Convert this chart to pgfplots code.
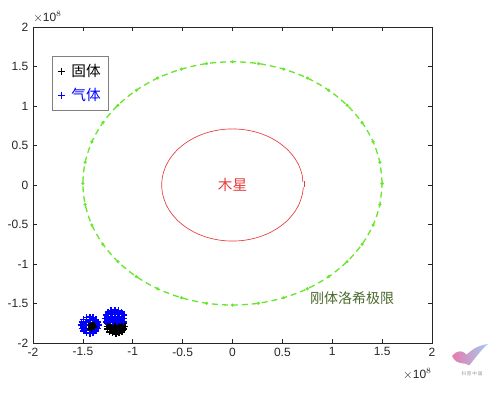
\documentclass[border=0pt]{standalone}
\usepackage{pgfplots}
\pgfplotsset{compat=1.18}
\usepackage{fontspec}
\setmainfont{Liberation Sans}
\newfontfamily\cjk{Noto Sans CJK SC}
\definecolor{mgreen}{RGB}{105,230,45}
\definecolor{tickgray}{RGB}{38,38,38}
\definecolor{olivetxt}{RGB}{75,105,45}
\definecolor{jred}{RGB}{230,60,60}
\definecolor{logopink}{RGB}{225,90,150}
\definecolor{logoblue}{RGB}{140,190,240}
\begin{document}
\begin{tikzpicture}
\path[use as bounding box] (0,0) rectangle (375pt,297pt);
\begin{axis}[
  at={(24.75pt,39.75pt)}, anchor=south west,
  scale only axis, width=299.25pt, height=237pt,
  xmin=-2, xmax=2, ymin=-2, ymax=2,
  xtick={-2,-1.5,...,2}, ytick={-2,-1.5,...,2},
  xticklabels={-2,-1.5,-1,-0.5,0,0.5,1,1.5,2},
  yticklabels={-2,-1.5,-1,-0.5,0,0.5,1,1.5,2},
  tick align=inside, tick pos=both,
  major tick length=3pt,
  axis line style={draw=tickgray, line width=0.5pt},
  tick style={draw=tickgray, line width=0.5pt},
  tick label style={font=\fontsize{9}{10}\selectfont, text=tickgray},
  /pgf/number format/assume math mode=true,
  scaled ticks=false,
  legend style={at={(0.048,0.908)}, anchor=north west, draw=gray, line width=0.4pt,
    font=\cjk\fontsize{11}{13}\selectfont, row sep=3pt, inner xsep=4pt, inner ysep=4pt},
  legend image code/.code={\draw[#1, line width=0.6pt, mark size=2.6pt] plot coordinates {(5pt,0pt)};},
  legend cell align=left,
  clip=false,
]
% solids (black)
\addplot[only marks, mark=+, mark size=2.3pt, line width=1.3pt, black] coordinates {
(-1.40,-1.78) (-1.42,-1.81) (-1.38,-1.80) (-1.40,-1.84) (-1.37,-1.83) (-1.42,-1.77) (-1.36,-1.79)
(-1.41,-1.79) (-1.44,-1.78) (-1.39,-1.77) (-1.42,-1.82) (-1.40,-1.76) (-1.37,-1.80) (-1.39,-1.83)
(-1.376,-1.775) (-1.392,-1.820) (-1.430,-1.838) (-1.468,-1.820)
(-1.080,-1.790) (-1.087,-1.754) (-1.253,-1.754) (-1.260,-1.790) (-1.253,-1.826) (-1.234,-1.857)
(-1.204,-1.878) (-1.170,-1.885) (-1.136,-1.878) (-1.106,-1.857) (-1.087,-1.826)
(-1.17,-1.79) (-1.21,-1.80) (-1.13,-1.80) (-1.17,-1.84) (-1.21,-1.84) (-1.13,-1.84) (-1.17,-1.75)
(-1.19,-1.77) (-1.15,-1.77) (-1.11,-1.77) (-1.23,-1.77) (-1.19,-1.82) (-1.15,-1.82) (-1.10,-1.84)
(-1.24,-1.80) (-1.19,-1.86) (-1.15,-1.86)
};
\addlegendentry{\hspace{3pt}固体}
% gases (blue)
\addplot[only marks, mark=+, mark size=2.3pt, line width=1.3pt, blue,
  legend image post style={draw=blue, color=blue}] coordinates {
(-1.340,-1.775) (-1.347,-1.735) (-1.366,-1.701) (-1.396,-1.678) (-1.430,-1.670) (-1.464,-1.678)
(-1.494,-1.701) (-1.513,-1.735) (-1.520,-1.775) (-1.513,-1.815) (-1.494,-1.849) (-1.464,-1.872)
(-1.430,-1.880) (-1.396,-1.872) (-1.366,-1.849) (-1.347,-1.815)
(-1.468,-1.730) (-1.484,-1.775)
(-1.49,-1.76) (-1.49,-1.80) (-1.43,-1.71) (-1.40,-1.70) (-1.37,-1.72) (-1.48,-1.84)
(-1.085,-1.690) (-1.092,-1.648) (-1.113,-1.612) (-1.144,-1.588) (-1.180,-1.580) (-1.216,-1.588)
(-1.247,-1.612) (-1.268,-1.648) (-1.275,-1.690) (-1.268,-1.732) (-1.092,-1.732)
(-1.18,-1.64) (-1.14,-1.67) (-1.22,-1.67) (-1.18,-1.70) (-1.13,-1.72) (-1.23,-1.72) (-1.20,-1.61) (-1.16,-1.61)
(-1.11,-1.68) (-1.25,-1.68) (-1.15,-1.64) (-1.21,-1.64) (-1.18,-1.67) (-1.16,-1.73) (-1.20,-1.73)
(-1.11,-1.62) (-1.25,-1.62)
};
\addlegendentry{\hspace{3pt}\textcolor{blue}{气体}}
% Jupiter
\addplot[jred, line width=0.5pt, smooth, forget plot] coordinates {
(0.705,0.04) (0.699,0.123) (0.667,0.243) (0.615,0.355) (0.544,0.456) (0.456,0.544) (0.355,0.615)
(0.243,0.667) (0.123,0.699) (0,0.710) (-0.123,0.699) (-0.243,0.667) (-0.355,0.615) (-0.456,0.544)
(-0.544,0.456) (-0.615,0.355) (-0.667,0.243) (-0.699,0.123) (-0.710,0) (-0.699,-0.123) (-0.667,-0.243)
(-0.615,-0.355) (-0.544,-0.456) (-0.456,-0.544) (-0.355,-0.615) (-0.243,-0.667) (-0.123,-0.699)
(0,-0.710) (0.123,-0.699) (0.243,-0.667) (0.355,-0.615) (0.456,-0.544) (0.544,-0.456) (0.615,-0.355)
(0.667,-0.243) (0.699,-0.123) (0.710,-0.03)
};
\addplot[jred, line width=0.5pt, forget plot] coordinates {(0.72,-0.02) (0.72,0.05)};
% Roche limit
\addplot[mgreen, line width=1pt, dash pattern=on 4.5pt off 3pt, smooth, mark=*, mark size=0.6pt,
  mark options={solid}, forget plot] coordinates {
(1.500,0.020) (1.477,0.287) (1.410,0.547) (1.299,0.790) (1.149,1.010) (0.964,1.200) (0.750,1.354)
(0.513,1.467) (0.260,1.537) (0,1.560) (-0.260,1.537) (-0.513,1.467) (-0.750,1.354) (-0.964,1.200)
(-1.149,1.010) (-1.299,0.790) (-1.410,0.547) (-1.477,0.287) (-1.500,0.020) (-1.477,-0.247)
(-1.410,-0.507) (-1.299,-0.750) (-1.149,-0.970) (-0.964,-1.160) (-0.750,-1.314) (-0.513,-1.427)
(-0.260,-1.497) (0,-1.520) (0.260,-1.497) (0.513,-1.427) (0.750,-1.314) (0.964,-1.160)
(1.149,-0.970) (1.299,-0.750) (1.410,-0.507) (1.477,-0.247) (1.500,0.020)
};
\node[text=jred, font=\cjk\fontsize{11}{13}\selectfont] at (axis cs:0,0) {木星};
\node[text=olivetxt, font=\cjk\fontsize{10.5}{12}\selectfont] at (axis cs:1.2,-1.43) {刚体洛希极限};
\node[anchor=south west, inner sep=0pt, text=tickgray, font=\fontsize{9}{10}\selectfont]
  at ([yshift=3pt]rel axis cs:0,1) {$\times$10$^{8}$};
\node[anchor=north east, inner sep=0pt, text=tickgray, font=\fontsize{9}{10}\selectfont]
  at ([yshift=-19pt]rel axis cs:1,0) {$\times$10$^{8}$};
\end{axis}
% logo watermark
\shade[left color=logopink, right color=logoblue, opacity=0.8]
  (339pt,30pt) .. controls (343pt,22pt) and (348pt,26pt) .. (352pt,23pt)
  .. controls (356pt,28pt) and (362pt,36pt) .. (366pt,39pt)
  .. controls (358pt,38pt) and (353pt,34pt) .. (350pt,31pt)
  .. controls (347pt,35pt) and (342pt,34pt) .. (339pt,30pt) -- cycle;
\node[text=gray!80, font=\cjk\fontsize{3.5}{4}\selectfont, inner sep=0pt] at (354pt,17pt) {科\,普\,中\,国};
\end{tikzpicture}
\end{document}
